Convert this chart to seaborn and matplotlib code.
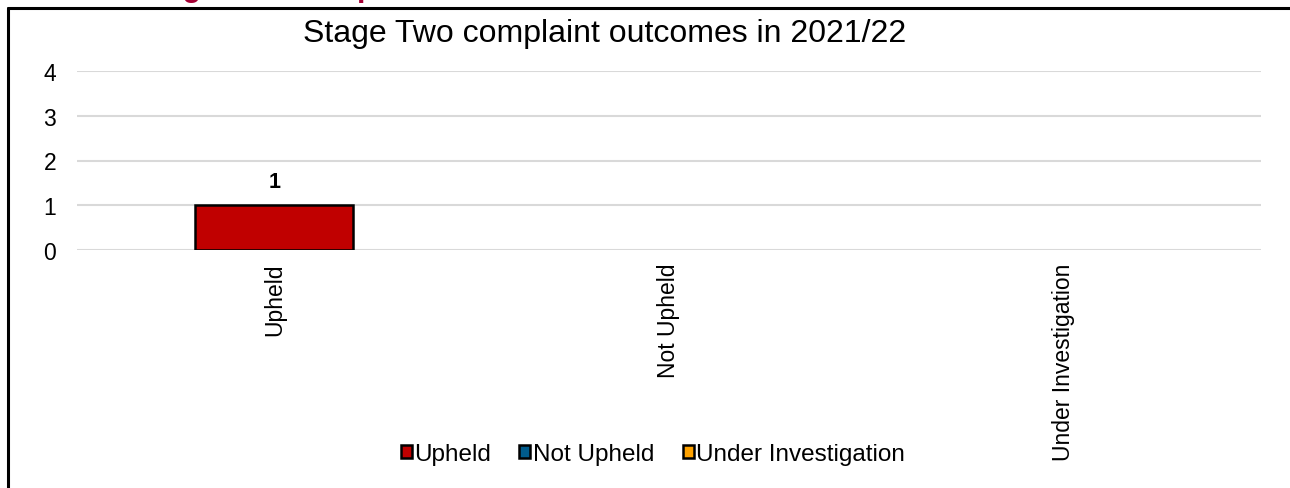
import matplotlib.pyplot as plt
import matplotlib.patches as mpatches
from matplotlib.lines import Line2D
import pandas as pd
import seaborn as sns

categories = ["Upheld", "Not Upheld", "Under Investigation"]
counts = [1, 0, 0]
colors = ["#C00000", "#005B8C", "#FFA200"]
y_ticks = [0, 1, 2, 3, 4]
title = "Stage Two complaint outcomes in 2021/22"

sns.set_theme(style="white")
plt.rcParams["font.family"] = ["Liberation Sans", "DejaVu Sans"]

df = pd.DataFrame({"outcome": categories, "count": counts})

fig = plt.figure(figsize=(12.9, 4.89), dpi=100)
ax = fig.add_axes([77 / 1290, 1 - 251 / 489, 1184 / 1290, 179 / 489])

sns.barplot(
    data=df, x="outcome", y="count", hue="outcome", order=categories,
    hue_order=categories, palette=colors, dodge=False, width=0.4,
    saturation=1, edgecolor="black", linewidth=1.8, legend=False, ax=ax,
)
for bar, val in zip(ax.patches, counts):
    if val == 0:
        bar.set_linewidth(0)
    else:
        ax.text(bar.get_x() + bar.get_width() / 2, val + 0.3, str(val),
                ha="center", va="bottom", fontsize=15.5, fontweight="bold",
                color="black")

ax.set_ylim(0, 4)
ax.set_yticks(y_ticks)
ax.set_xlim(-0.5, 2.5)
ax.yaxis.grid(True, color="#D9D9D9", linewidth=1.5)
ax.set_axisbelow(True)
for s in ax.spines.values():
    s.set_visible(False)
ax.tick_params(axis="both", length=0, labelsize=16.5, colors="black")
ax.tick_params(axis="y", pad=15)
ax.tick_params(axis="x", pad=9)
ax.set_xticks(range(len(categories)))
ax.set_xticklabels(categories, rotation=90, va="top")
ax.set_xlabel("")
ax.set_ylabel("")

fig.text(605 / 1290, 1 - 34 / 489, title, ha="center", va="center",
         fontsize=23, color="black")

handles = [mpatches.Patch(facecolor=c, edgecolor="black", linewidth=1.8, label=l)
           for c, l in zip(colors, categories)]
fig.legend(handles=handles, loc="center", bbox_to_anchor=(653 / 1290, 1 - 455 / 489),
           ncol=3, frameon=False, fontsize=17.5, handlelength=0.45, handleheight=0.45,
           handletextpad=0.12, columnspacing=1.15, labelcolor="black")

# cropped heading of the page above the chart frame
fig.text(135 / 1290, 1 + 3.5 / 489, "Stage Two complaints", color="#A50034",
         fontsize=22, fontweight="bold", ha="left", va="baseline")

# outer frame (left and top edges visible)
fig.add_artist(Line2D([8 / 1290, 8 / 1290], [0, 1 - 9 / 489], color="black", linewidth=2.2))
fig.add_artist(Line2D([8 / 1290, 1], [1 - 9 / 489, 1 - 9 / 489], color="black", linewidth=2.2))

fig.savefig("out.png", dpi=100, facecolor="white")
